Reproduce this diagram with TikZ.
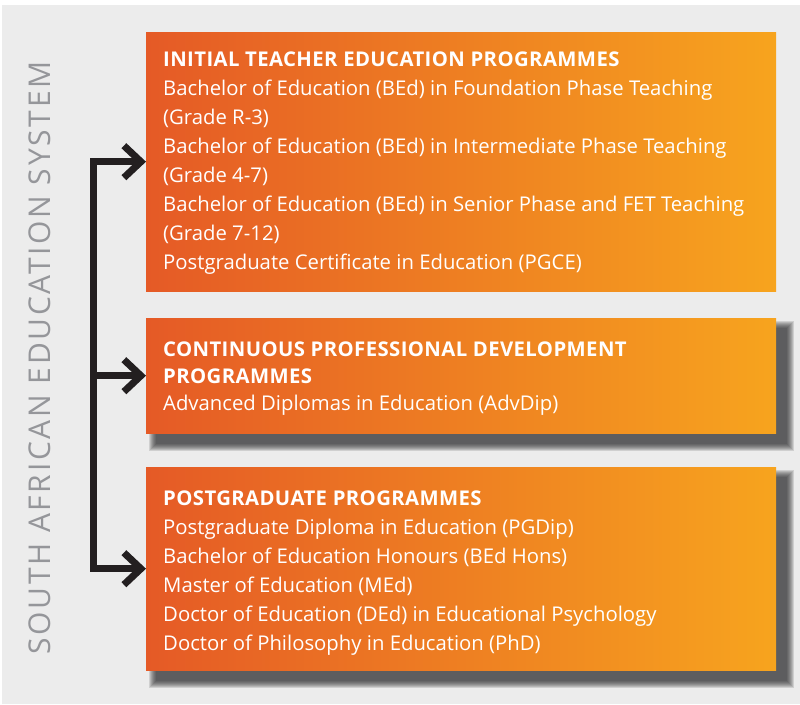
\documentclass[tikz,border=0pt]{standalone}
\usepackage{fontspec}
\setmainfont{Open Sans}
\usepackage{tikz}
\usetikzlibrary{arrows.meta,backgrounds}
\definecolor{pageGray}{HTML}{ECECEC}
\definecolor{sideGray}{HTML}{95969A}
\definecolor{orLeft}{HTML}{E55A26}
\definecolor{orRight}{HTML}{F7A41E}
\definecolor{linkBlack}{HTML}{231F20}
\definecolor{shadowGray}{HTML}{2A2A2C}
\newcommand{\progtitle}[1]{{\bfseries\addfontfeature{LetterSpace=2}#1}}

\begin{document}
\begin{tikzpicture}[
    x=1pt, y=-1pt,
    progbox/.style={rectangle, anchor=north west, inner sep=0pt,
        minimum width=630pt, left color=orLeft, right color=orRight},
    shadowstep/.style={fill=shadowGray, opacity=0.15},
    proglist/.style={anchor=north west, align=left, inner sep=0pt,
        text=white, font=\fontsize{20.3}{29}\selectfont},
    link/.style={draw=linkBlack, line width=7pt, line join=miter},
    barb/.tip={Straight Barb[length=17pt, width=32pt]}
]
\useasboundingbox (0,0) rectangle (800,704);
\begin{scope}[on background layer]
\fill[white] (0,0) rectangle (800,704);
\fill[pageGray] (2,5) rectangle (800,704);
\end{scope}

\node[progbox, minimum height=259pt] (itep) at (146,32) {};
\node[progbox, minimum height=115pt] (cpdp) at (146,318) {};
\node[progbox, minimum height=203pt] (pgp) at (146,467) {};

% soft shadow behind the two lower boxes
\begin{scope}[on background layer]
\foreach \prog in {cpdp,pgp}
  \foreach \k in {0,...,7}
    \fill[shadowstep] ([shift={(3+\k,3+\k)}]\prog.north west)
        rectangle ([shift={(18-\k,18-\k)}]\prog.south east);
\end{scope}

\node[proglist] (itepText) at ([shift={(17,20)}]itep.north west) {%
    \progtitle{INITIAL TEACHER EDUCATION PROGRAMMES}\\
    Bachelor of Education (BEd) in Foundation Phase Teaching\\
    (Grade R-3)\\
    Bachelor of Education (BEd) in Intermediate Phase Teaching\\
    (Grade 4-7)\\
    Bachelor of Education (BEd) in Senior Phase and FET Teaching\\
    (Grade 7-12)\\
    Postgraduate Certificate in Education (PGCE)};
\node[proglist, font=\fontsize{20.3}{27}\selectfont] (cpdpText) at ([shift={(17,24)}]cpdp.north west) {%
    \progtitle{CONTINUOUS PROFESSIONAL DEVELOPMENT}\\
    \progtitle{PROGRAMMES}\\
    Advanced Diplomas in Education (AdvDip)};
\node[proglist] (pgpText) at ([shift={(17,24)}]pgp.north west) {%
    \progtitle{POSTGRADUATE PROGRAMMES}\\
    Postgraduate Diploma in Education (PGDip)\\
    Bachelor of Education Honours (BEd Hons)\\
    Master of Education (MEd)\\
    Doctor of Education (DEd) in Educational Psychology\\
    Doctor of Philosophy in Education (PhD)};

\node[rotate=90, text=sideGray, font=\fontsize{30}{30}\selectfont\addfontfeature{LetterSpace=9}] (system) at (40,358)
    {SOUTH AFRICAN EDUCATION SYSTEM};

\coordinate (spine) at (93.5,0);
\draw[link, barb-barb] (itep.west) -- (itep.west -| spine) -- (pgp.west -| spine) -- (pgp.west);
\draw[link, -barb] (cpdp.west -| spine) -- (cpdp.west);
\end{tikzpicture}
\end{document}
